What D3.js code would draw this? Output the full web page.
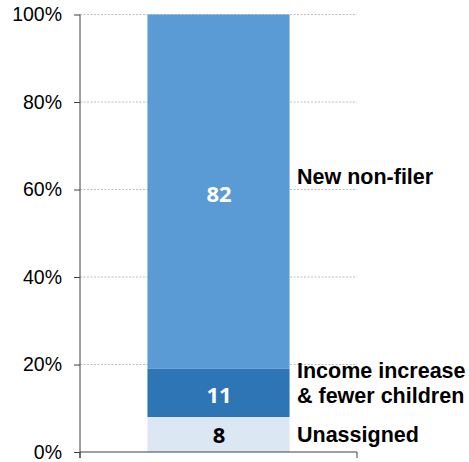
<!DOCTYPE html>
<html>
<head>
<meta charset="utf-8">
<script src="https://cdn.jsdelivr.net/npm/d3@7"></script>
<style>
  html, body { margin: 0; padding: 0; background: #ffffff; }
  svg { display: block; }
</style>
</head>
<body>
<svg id="chart" width="469" height="462"></svg>
<script>
// Share of cases by reason (percent)
const categories = ["Unassigned", "Income increase\n& fewer children", "New non-filer"];
const values = [8, 11, 82];
const colors = ["#dce7f4", "#2e75b6", "#5b9bd5"];
const labelColors = ["#000000", "#ffffff", "#ffffff"];
const yTicks = [0, 20, 40, 60, 80, 100];

const svg = d3.select("#chart");
const plotLeft = 80, plotRight = 357, plotTop = 14.5, plotBottom = 452;

const y = d3.scaleLinear().domain([0, 100]).range([plotBottom, plotTop]).clamp(true);
const x = d3.scaleBand().domain(["all"]).range([plotLeft, plotRight])
  .paddingInner(0.487).paddingOuter(0.2435);

// dotted gridlines
svg.append("g").selectAll("line")
  .data(yTicks.filter(d => d > 0))
  .join("line")
  .attr("x1", plotLeft).attr("x2", plotRight)
  .attr("y1", d => y(d)).attr("y2", d => y(d))
  .attr("stroke", "#bfbfbf").attr("stroke-width", 1)
  .attr("stroke-dasharray", "2,1.5");

// stacked segments
let acc = 0;
const segs = values.map((v, i) => {
  const s = { v, i, y0: acc, y1: acc + v, cat: categories[i] };
  acc += v;
  return s;
});

svg.append("g").selectAll("rect")
  .data(segs)
  .join("rect")
  .attr("x", x("all"))
  .attr("width", x.bandwidth())
  .attr("y", d => y(d.y1))
  .attr("height", d => y(d.y0) - y(d.y1))
  .attr("fill", (d, i) => colors[i]);

// value labels inside segments
svg.append("g").selectAll("text")
  .data(segs)
  .join("text")
  .attr("x", x("all") + x.bandwidth() / 2 + 0.5)
  .attr("y", d => (y(d.y0) + y(d.y1)) / 2)
  .attr("dy", d => d.i === 2 ? "0.48em" : (d.i === 1 ? "0.47em" : "0.37em"))
  .attr("text-anchor", "middle")
  .attr("font-family", "'Open Sans', sans-serif")
  .attr("font-weight", 700)
  .attr("font-size", 22)
  .attr("fill", (d, i) => labelColors[i])
  .text(d => d.v);

// category labels to the right of the bar (baseline offset from segment middle)
const catOffset = [7.2, -2.5, -7.8];
const catG = svg.append("g");
segs.forEach(d => {
  const lines = d.cat.split("\n");
  const mid = (y(d.y0) + y(d.y1)) / 2 + catOffset[d.i];
  const t = catG.append("text")
    .attr("x", 297)
    .attr("font-family", "'Liberation Sans', Arial, sans-serif")
    .attr("font-weight", 700)
    .attr("font-size", 21.5)
    .attr("fill", "#000");
  lines.forEach((ln, k) => {
    t.append("tspan")
      .attr("x", 297)
      .attr("y", mid + (k - (lines.length - 1) / 2) * 25)
      .text(ln);
  });
});

// y axis
const yAxis = svg.append("g")
  .attr("transform", `translate(${plotLeft},0)`)
  .call(d3.axisLeft(y).tickValues(yTicks).tickFormat(d => d + "%").tickSize(6).tickPadding(12));
yAxis.select(".domain").remove();
yAxis.selectAll(".tick line").attr("stroke", "#404040");
yAxis.selectAll(".tick text")
  .attr("font-family", "'Liberation Sans', Arial, sans-serif")
  .attr("font-size", 19.5)
  .attr("fill", "#000");
svg.append("line")
  .attr("x1", plotLeft).attr("x2", plotLeft)
  .attr("y1", plotTop).attr("y2", plotBottom + 6)
  .attr("stroke", "#404040");

// x axis baseline with category boundary ticks
const xAxis = svg.append("g")
  .attr("transform", `translate(0,${plotBottom})`);
xAxis.append("line")
  .attr("x1", plotLeft).attr("x2", plotRight)
  .attr("stroke", "#404040");
xAxis.selectAll("line.bound")
  .data(x.range())
  .join("line")
  .attr("class", "bound")
  .attr("x1", d => d).attr("x2", d => d)
  .attr("y1", 0).attr("y2", 6)
  .attr("stroke", "#404040");
</script>
</body>
</html>
